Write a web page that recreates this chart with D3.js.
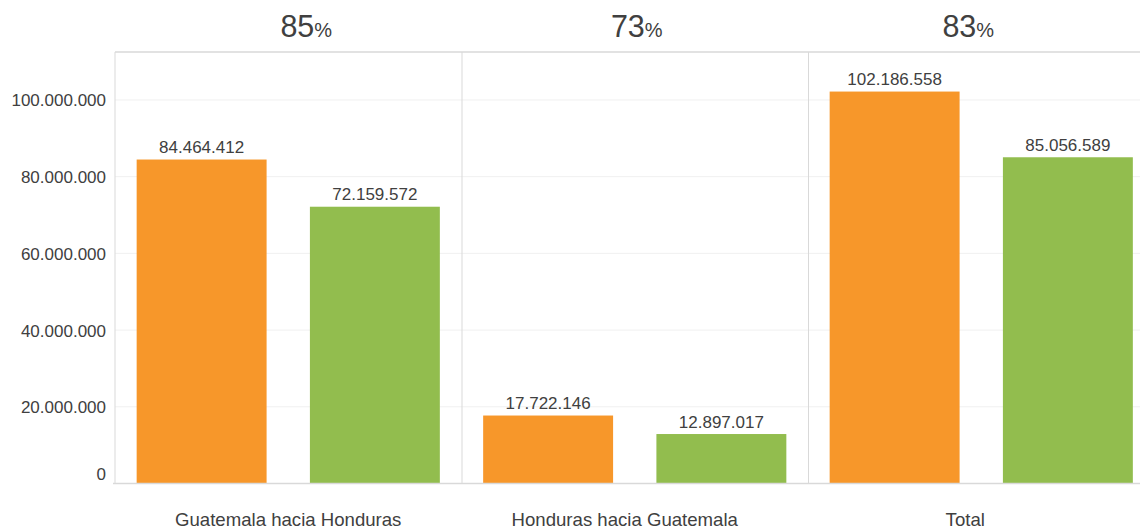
<!DOCTYPE html>
<html><head><meta charset="utf-8">
<script src="https://cdn.jsdelivr.net/npm/d3@7"></script>
<style>
html,body{margin:0;padding:0;background:#fff;overflow:hidden}
text{font-family:"Liberation Sans",Arial,Helvetica,sans-serif;fill:#404040}
</style></head>
<body><svg id="c" width="1140" height="529"></svg>
<script>
const categories = ["Guatemala hacia Honduras", "Honduras hacia Guatemala", "Total"];
const seriesA = [84464412, 17722146, 102186558];
const seriesB = [72159572, 12897017, 85056589];
const percents = ["85", "73", "83"];
const yTicks = [0, 20000000, 40000000, 60000000, 80000000, 100000000];

(function () {
const colors = ["#F7972A", "#92BD4E"];
const FONT = '"Liberation Sans",Arial,Helvetica,sans-serif';
const svg = d3.select("#c");
const mLeft = 115, mTop = 52, mBottom = 483.5, panelW = 346.5;
const mRight = mLeft + panelW * 3;

const x = d3.scaleBand().domain(categories).range([mLeft, mRight]).padding(0);
const inner = d3.scaleBand().domain([0, 1]).range([0, panelW]).paddingInner(0.25).paddingOuter(0.125);
const y = d3.scaleLinear().domain([0, 112500000]).range([mBottom, mTop]);
const fmt = v => d3.format(",")(v).replace(/,/g, ".");

// gridlines
svg.append("g").selectAll("line").data(yTicks.filter(t => t > 0)).join("line")
  .attr("x1", mLeft).attr("x2", 1140).attr("y1", d => y(d)).attr("y2", d => y(d))
  .attr("stroke", "#f0f0f0").attr("stroke-width", 1);

// panel dividers
svg.append("g").selectAll("line").data(categories.slice(1)).join("line")
  .attr("x1", d => x(d) + 0.5).attr("x2", d => x(d) + 0.5).attr("y1", mTop).attr("y2", mBottom)
  .attr("stroke", "#d9d9d9");

// frame
svg.append("line").attr("x1", mLeft).attr("x2", 1140).attr("y1", mTop).attr("y2", mTop).attr("stroke", "#d9d9d9").attr("stroke-width", 1.5);
svg.append("line").attr("x1", mLeft).attr("x2", mLeft).attr("y1", mTop).attr("y2", mBottom).attr("stroke", "#d9d9d9");

// bars
const rows = categories.map((c, i) => [seriesA[i], seriesB[i]].map((v, j) => ({c, j, v})));
const g = svg.append("g");
rows.flat().forEach(d => {
  const bx = x(d.c) + inner(d.j);
  g.append("rect").attr("x", bx).attr("y", y(d.v)).attr("width", inner.bandwidth())
    .attr("height", y(0) - y(d.v)).attr("fill", colors[d.j]);
  g.append("text").attr("x", bx + inner.bandwidth() / 2).attr("y", y(d.v) - 6.5)
    .attr("text-anchor", "middle").attr("font-size", 17).text(fmt(d.v));
});

// bottom axis line
svg.append("line").attr("x1", mLeft - 2).attr("x2", 1140).attr("y1", mBottom).attr("y2", mBottom).attr("stroke", "#d9d9d9").attr("stroke-width", 1.5);

// y axis
const yAxis = d3.axisLeft(y).tickValues(yTicks).tickSize(0).tickPadding(9).tickFormat(fmt);
const ya = svg.append("g").attr("transform", `translate(${mLeft},0)`).call(yAxis);
ya.select(".domain").remove();
ya.selectAll("text").attr("font-size", 17).attr("fill", "#404040")
  .style("font-family", FONT)
  .attr("dy", d => d === 0 ? "-0.25em" : "0.35em");

// category labels
const catShift = [0, -10, -16];
svg.append("g").selectAll("text").data(categories).join("text")
  .attr("x", (d, i) => x(d) + x.bandwidth() / 2 + catShift[i]).attr("y", 526)
  .attr("text-anchor", "middle").attr("font-size", 18.6).text(d => d);

// percent titles
const pctShift = [18, 2, -13];
const pt = svg.append("g").selectAll("text").data(categories).join("text")
  .attr("x", (d, i) => x(d) + x.bandwidth() / 2 + pctShift[i]).attr("y", 37)
  .attr("text-anchor", "middle").attr("font-size", 30.5);
pt.append("tspan").text((d, i) => percents[i]);
pt.append("tspan").attr("font-size", 20).text("%");
})();
</script></body></html>
